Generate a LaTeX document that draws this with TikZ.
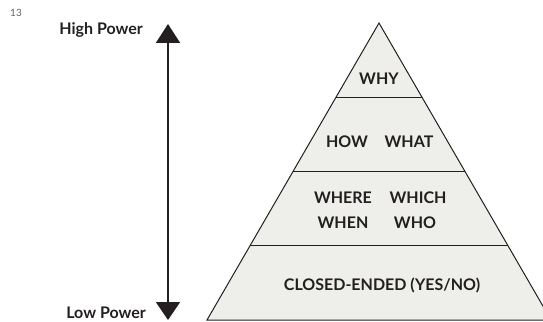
\documentclass[tikz,border=0pt]{standalone}
\usepackage{fontspec}
\setsansfont{Lato}
\usetikzlibrary{arrows.meta,calc}
\definecolor{pyrfill}{RGB}{238,239,235}
\definecolor{ink}{RGB}{35,31,32}
\tikzset{lvl/.style={font=\sffamily\bfseries\fontsize{16}{18}\selectfont,text=ink,inner sep=0pt},
  side/.style={lvl,anchor=east}}
\begin{document}
\begin{tikzpicture}[x=1pt,y=-1pt]
\useasboundingbox (0,0) rectangle (543,321);
\coordinate (apex) at (379,23);\coordinate (bl) at (207,320);\coordinate (br) at (551,320);
\begin{scope}\clip (0,0) rectangle (543,321);
\draw[fill=pyrfill,line width=1pt,draw=ink] (apex)--(bl)--(br)--cycle;
\foreach \t in {.25,.5,.75}{\draw[line width=1pt,draw=ink] ($(apex)!\t!(bl)$)--($(apex)!\t!(br)$);}
\end{scope}
% power axis
\coordinate (top) at (168,24);\coordinate (bot) at (168,320);
\draw[line width=2pt,draw=ink,{Triangle[width=24pt,length=19pt]}-{Triangle[width=24pt,length=18pt]}] (top)--(bot);
\node[side] (hi) at (143,30){High Power};\node[side] (lo) at (146,313){Low Power};
\node[font=\sffamily\fontsize{10}{11}\selectfont,text=ink!70] (pg) at (16,13){13};
% levels
\node[lvl] (why) at (379,79){WHY};
\node[lvl] (how) at (347,142){HOW};\node[lvl] (what) at (409,142){WHAT};
\node[lvl] (where) at (343,198){WHERE};\node[lvl] (which) at (418,198){WHICH};
\node[lvl] (when) at (343,223){WHEN};\node[lvl] (who) at (415,223){WHO};
\node[lvl] (closed) at (382,285){CLOSED-ENDED (YES/NO)};
\end{tikzpicture}
\end{document}
